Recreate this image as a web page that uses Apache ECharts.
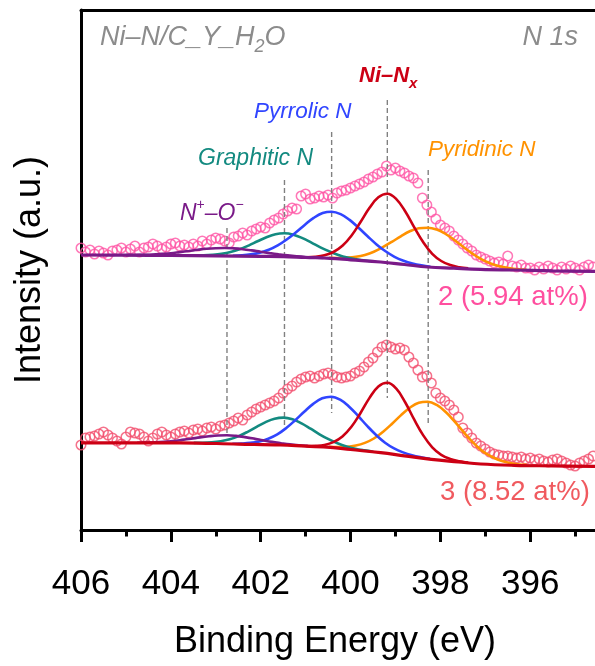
<!DOCTYPE html>
<html><head><meta charset="utf-8">
<script src="https://cdn.jsdelivr.net/npm/echarts@6/dist/echarts.min.js"></script>
<style>html,body{margin:0;padding:0;background:#fff}#c{width:595px;height:666px}</style>
</head><body><div id="c"></div>
<script>
// ---------- data ----------
const xTickValues = [406, 404, 402, 400, 398, 396];
const beStart = 406.0, beStep = 0.1;   // measurement grid of the raw spectra (406.0 -> 394.6)

// raw data (intensity, a.u.) sample 2 (upper) and sample 3 (lower)
const upperRaw = [
 282,278,280,276,279,277,275,279,280,282,
 278,281,284,278,282,283,286,284,281,283,
 286,287,284,285,283,286,284,289,286,290,
 292,291,289,287,293,294,297,295,299,301,
 303,302,307,310,312,316,319,322,321,334,
 336,331,332,334,333,335,332,337,339,340,
 342,344,346,348,351,353,356,358,364,360,
 362,359,357,354,352,347,332,325,318,311,
 305,302,299,294,290,286,282,279,275,273,
 271,269,267,268,266,274,264,263,265,262,
 262,260,263,261,264,262,260,263,261,264,
 262,260,263,265,263];
const lowerRaw = [
 85,92,93,94,96,98,95,92,89,86,
 93,98,97,96,93,89,92,96,98,95,
 93,96,98,99,97,100,101,99,102,103,
 101,104,105,107,109,112,110,115,118,121,
 123,125,127,129,132,137,141,144,148,151,
 153,154,152,154,156,157,155,153,152,153,
 154,157,159,163,168,172,178,183,185,183,
 181,182,180,173,167,160,153,154,147,137,
 132,129,125,120,113,102,97,92,87,84,
 81,78,76,75,74,74,73,72,73,71,
 72,70,71,69,68,70,71,69,67,65,
 64,67,69,71,74];

// fitted components (energy, intensity) - upper spectrum
const upNO_E = [405.0,404.8,404.6,404.4,404.2,404.0,403.8,403.6,403.4,403.2,403.0,402.8,402.6,402.4,402.2,402.0,401.8,401.6,401.4,401.2,401.0,400.8,400.6];
const upNO_I = [274.9,275.0,275.2,275.5,276.1,276.8,277.9,279.0,280.2,281.2,281.8,282.0,281.6,280.8,279.6,278.2,276.9,275.7,274.6,273.7,273.0,272.5,272.0];
const upGr_E = [403.47,403.27,403.07,402.87,402.67,402.47,402.27,402.07,401.87,401.67,401.47,401.27,401.07,400.87,400.67,400.47,400.27,400.07,399.87,399.67,399.47];
const upGr_I = [274.5,274.6,275.1,276.1,277.9,280.7,284.4,288.7,292.8,295.8,296.7,295.3,291.9,287.4,282.7,278.6,275.1,272.5,270.8,269.5,268.7];
const upPy_E = [402.62,402.42,402.22,402.02,401.82,401.62,401.42,401.22,401.02,400.82,400.62,400.42,400.22,400.02,399.82,399.62,399.42,399.22,399.02,398.82,398.62,398.42,398.22];
const upPy_I = [274.3,274.7,275.6,277.3,280.2,284.6,290.5,297.5,305.1,312.1,316.9,318.3,315.9,310.1,302.2,293.7,285.6,278.7,273.2,269.3,266.5,264.6,263.3];
const upNi_E = [400.98,400.78,400.58,400.38,400.18,399.98,399.78,399.58,399.38,399.18,398.98,398.78,398.58,398.38,398.18,397.98,397.78,397.58,397.38];
const upNi_I = [272.8,273.2,274.7,278.0,284.2,294.3,307.7,321.9,332.7,336.3,330.9,318.5,302.6,287.7,276.2,269.0,264.9,262.7,261.6];
const upPd_E = [400.48,400.28,400.08,399.88,399.68,399.48,399.28,399.08,398.88,398.68,398.48,398.28,398.08,397.88,397.68,397.48,397.28,397.08,396.88,396.68,396.48,396.28,396.08];
const upPd_I = [272.1,272.0,272.3,273.2,275.1,278.3,282.9,288.1,293.7,298.7,301.8,302.3,300.4,296.0,289.7,282.8,276.2,270.6,266.5,263.7,261.9,260.7,260.2];
const upBg_E = [406,405,404,403,402,401.5,401,400.45,400,399.33,398.8,398.28,397.7,397.1,396.36,395.5,394.5];
const upBg_I = [275,274.8,274.5,274.1,273.6,273.3,272.5,271.7,270.2,268,265.5,263,261.8,260.7,260,259.2,258.5];

// fitted components - lower spectrum
const loNO_E = [404.75,404.55,404.35,404.15,403.95,403.75,403.55,403.35,403.15,402.95,402.75,402.55,402.35,402.15,401.95,401.75,401.55,401.35,401.15,400.95,400.75];
const loNO_I = [87.3,87.5,87.7,88.2,89.0,90.1,91.3,92.6,93.7,94.5,94.7,94.1,92.9,91.4,89.7,88.1,86.8,85.6,84.7,84.0,83.4];
const loGr_E = [403.49,403.29,403.09,402.89,402.69,402.49,402.29,402.09,401.89,401.69,401.49,401.29,401.09,400.89,400.69,400.49,400.29,400.09,399.89,399.69,399.49];
const loGr_I = [87.1,87.2,87.7,88.8,90.8,93.9,98.2,103.2,107.9,111.3,112.4,110.7,106.6,101.3,95.7,90.8,86.7,83.5,81.2,79.6,78.3];
const loPy_E = [402.63,402.43,402.23,402.03,401.83,401.63,401.43,401.23,401.03,400.83,400.63,400.43,400.23,400.03,399.83,399.63,399.43,399.23,399.03,398.83,398.63,398.43,398.23];
const loPy_I = [86.3,86.5,87.1,88.6,91.3,95.6,102.0,109.8,118.2,126.1,131.7,133.3,130.3,123.3,114.0,104.1,95.0,87.3,81.6,77.6,74.7,72.7,71.2];
const loNi_E = [400.98,400.78,400.58,400.38,400.18,399.98,399.78,399.58,399.38,399.18,398.98,398.78,398.58,398.38,398.18,397.98,397.78,397.58,397.38];
const loNi_I = [84.0,84.2,85.1,87.9,93.5,103.2,116.8,131.9,143.6,147.3,141.4,127.5,110.3,94.6,82.7,75.2,71.1,68.8,67.4];
const loPd_E = [400.48,400.28,400.08,399.88,399.68,399.48,399.28,399.08,398.88,398.68,398.48,398.28,398.08,397.88,397.68,397.48,397.28,397.08,396.88,396.68,396.48,396.28,396.08];
const loPd_I = [83.3,83.0,83.2,84.4,87.1,91.5,98.1,106.0,114.6,122.2,127.3,128.3,125.1,118.0,108.4,97.8,87.9,79.6,73.8,69.7,67.2,65.8,65.1];
const loBg_E = [406,404.5,403.8,402.5,401.56,401,400.45,400,399.33,398.8,398.2,397.6,397.1,396.36,395.5,394.5];
const loBg_I = [87.2,87.2,87.2,85.9,85.0,83.8,82.7,80.5,77.3,74.2,70.7,68.1,66.0,64.7,64.1,63.5];

// peak-position guide lines
const peakCenters = [402.75, 401.47, 400.42, 399.18, 398.27];
const guideTop    = [302, 350, 398, 430, 360];
const guideBottom = [95, 103, 117, 132, 107];

// ---------- styling ----------
const FONT = '"Liberation Sans", Arial, Helvetica, sans-serif';
const C = {
  purple: '#7a1a88', teal: '#138a80', blue: '#3045ff', red: '#cc0014', orange: '#ff9200',
  upDots: '#ff55a5', loDots: '#f24f6e', upText: '#ff4f9f', loText: '#f05a5f', gray: '#8c8c8c', guide: '#808080'
};

const pairs = (E, I) => E.map((e, i) => [e, I[i]]);
const rawPairs = arr => arr.map((v, i) => [+(beStart - i * beStep).toFixed(1), v]);

function comp(E, I, color, width, z) {
  return { type: 'line', data: pairs(E, I), smooth: 0.4, symbol: 'none', silent: true,
           lineStyle: { color: color, width: width }, z: z, animation: false };
}
function dots(arr, color) {
  return { type: 'scatter', data: rawPairs(arr), symbol: 'circle', symbolSize: 9.5, silent: true,
           itemStyle: { color: 'rgba(255,255,255,0)', borderColor: color, borderWidth: 1.5 }, z: 1 };
}

const series = [dots(upperRaw, C.upDots), dots(lowerRaw, C.loDots)];
peakCenters.forEach((e, i) => {
  series.push({ type: 'line', data: [[e, guideTop[i]], [e, guideBottom[i]]], symbol: 'none', silent: true,
    lineStyle: { color: C.guide, width: 1.4, type: [5, 3] }, z: 2 });
});
series.push(
  comp(upPd_E, upPd_I, C.orange, 2.6, 3), comp(upGr_E, upGr_I, C.teal, 2.6, 3),
  comp(upPy_E, upPy_I, C.blue, 2.6, 3), comp(upNi_E, upNi_I, C.red, 2.6, 3),
  comp(upNO_E, upNO_I, C.purple, 2.6, 3), comp(upBg_E, upBg_I, C.purple, 3.2, 4),
  comp(loPd_E, loPd_I, C.orange, 2.6, 3), comp(loGr_E, loGr_I, C.teal, 2.6, 3),
  comp(loPy_E, loPy_I, C.blue, 2.6, 3), comp(loNi_E, loNi_I, C.red, 2.6, 3),
  comp(loNO_E, loNO_I, C.purple, 2.6, 3), comp(loBg_E, loBg_I, C.red, 3.2, 4)
);

function txt(x, y, text, fill, size, extra) {
  return Object.assign({ type: 'text', x: x, y: y, silent: true, z: 10,
    style: Object.assign({ text: text, fill: fill, fontSize: size, fontFamily: FONT, fontStyle: 'italic',
      align: 'left', verticalAlign: 'middle' }, extra || {}) });
}

const graphic = [
  { type: 'text', x: 100, y: 37.5, silent: true, z: 10, style: {
      text: '{a|Ni–N/C_Y_H}{s|2}{a|O}', align: 'left', verticalAlign: 'middle',
      rich: { a: { fontSize: 27, fontStyle: 'italic', fontFamily: FONT, fill: C.gray, lineHeight: 36 },
              s: { fontSize: 18, fontStyle: 'italic', fontFamily: FONT, fill: C.gray, lineHeight: 18, verticalAlign: 'bottom' } } } },
  txt(578, 37.5, 'N 1s', C.gray, 27, { align: 'right' }),
  { type: 'text', x: 359, y: 76, silent: true, z: 10, style: {
      text: '{a|Ni–N}{s|x}', align: 'left', verticalAlign: 'middle',
      rich: { a: { fontSize: 22, fontStyle: 'italic', fontWeight: 'bold', fontFamily: FONT, fill: C.red, lineHeight: 30 },
              s: { fontSize: 15, fontStyle: 'italic', fontWeight: 'bold', fontFamily: FONT, fill: C.red, lineHeight: 16, verticalAlign: 'bottom' } } } },
  txt(254, 111.5, 'Pyrrolic N', C.blue, 22.5),
  txt(198, 158.5, 'Graphitic N', C.teal, 23),
  txt(428, 150, 'Pyridinic N', C.orange, 22.5),
  { type: 'text', x: 180, y: 213.5, silent: true, z: 10, style: {
      text: '{a|N}{p|+}{a|–O}{p|−}', align: 'left', verticalAlign: 'middle',
      rich: { a: { fontSize: 23, fontStyle: 'italic', fontFamily: FONT, fill: C.purple, lineHeight: 30 },
              p: { fontSize: 14, fontFamily: FONT, fill: C.purple, lineHeight: 20, verticalAlign: 'top' } } } },
  txt(438, 297.5, '2 (5.94 at%)', C.upText, 27.5, { fontStyle: 'normal' }),
  txt(440, 492.5, '3 (8.52 at%)', C.loText, 27.5, { fontStyle: 'normal' }),
  txt(335, 642.5, 'Binding Energy (eV)', '#000', 36, { fontStyle: 'normal', align: 'center' })
];

const chart = echarts.init(document.getElementById('c'), null, { renderer: 'canvas' });
chart.setOption({
  animation: false,
  backgroundColor: '#fff',
  grid: { left: 81, width: 539, top: 10, height: 520, containLabel: false, outerBoundsMode: 'none' },
  xAxis: [
    { type: 'value', position: 'bottom', inverse: true, min: 394, max: 406, interval: 2,
      axisLine: { onZero: false, lineStyle: { color: '#000', width: 3 } },
      axisTick: { length: 12, lineStyle: { color: '#000', width: 3 } },
      minorTick: { show: true, splitNumber: 2, length: 6.5, lineStyle: { color: '#000', width: 3 } },
      axisLabel: { fontSize: 35, color: '#000', fontFamily: FONT, margin: 37,
        formatter: v => (xTickValues.indexOf(v) >= 0 ? String(v) : '') },
      splitLine: { show: false }, minorSplitLine: { show: false } },
    { type: 'value', position: 'top', inverse: true, min: 394, max: 406,
      axisLine: { onZero: false, lineStyle: { color: '#000', width: 3 } },
      axisTick: { show: false }, axisLabel: { show: false }, splitLine: { show: false } }
  ],
  yAxis: { type: 'value', min: 0, max: 520,
    axisLine: { show: true, onZero: false, lineStyle: { color: '#000', width: 3 } },
    axisTick: { show: false }, axisLabel: { show: false }, splitLine: { show: false },
    name: 'Intensity (a.u.)', nameLocation: 'middle', nameGap: 33, nameRotate: 90,
    nameTextStyle: { fontSize: 36, color: '#000', fontFamily: FONT } },
  series: series,
  graphic: graphic
});
</script>
</body></html>
